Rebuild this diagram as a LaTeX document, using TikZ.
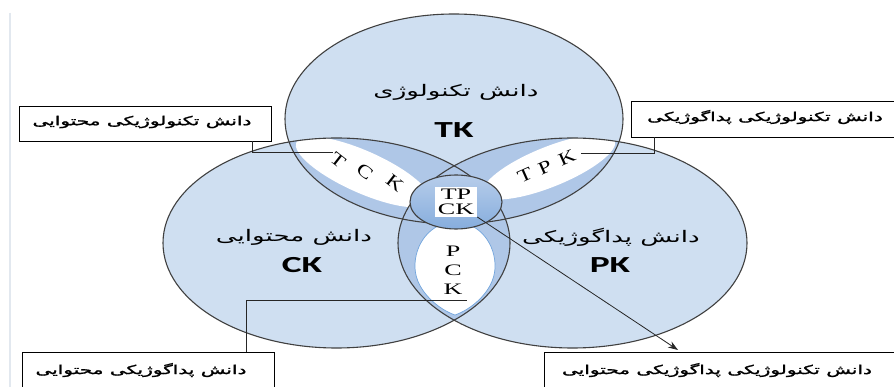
\documentclass[tikz,border=0pt]{standalone}
\usepackage{fontspec}
\usetikzlibrary{arrows.meta}
\TeXXeTstate=1
\newfontfamily\arabicfont[Script=Arabic]{DejaVu Sans}
\newfontfamily\arabicbold[Script=Arabic,FakeBold=1.5]{DejaVu Sans}
\newfontfamily\calfont{Carlito}
\newfontfamily\serfont{Liberation Serif}
\newcommand{\sx}[1]{\scalebox{1.63}[1]{#1}}
\newcommand{\fa}[1]{\scalebox{1.63}[1]{\beginR #1\endR}}
\definecolor{fillA}{HTML}{CFDFF1}
\definecolor{lensC}{HTML}{AFC7E7}
\definecolor{edgeC}{HTML}{404040}
\definecolor{coreTop}{HTML}{B7CDEA}
\definecolor{coreBot}{HTML}{86ADDD}
\definecolor{pckEdge}{HTML}{6FA3DC}
\definecolor{sideC}{HTML}{E2E8EF}
\tikzset{
  bigedge/.style={draw=edgeC, line width=1.1pt},
  arlab/.style={font={\arabicfont\fontsize{16}{19}\selectfont}, inner sep=0pt},
  enlab/.style={font={\calfont\bfseries\fontsize{23}{26}\selectfont}, inner sep=0pt},
  letter/.style={font={\serfont\fontsize{18}{20}\selectfont}, inner sep=0pt},
  pletter/.style={font={\serfont\fontsize{16}{18}\selectfont}, inner sep=0pt},
  boxnode/.style={draw=black, line width=0.9pt, fill=white, inner sep=0pt},
  boxtext/.style={font={\arabicbold\fontsize{12.3}{15}\selectfont}, inner sep=0pt},
  conn/.style={draw=black!85, line width=0.8pt},
}
\begin{document}
\begin{tikzpicture}[x=1pt, y=-1pt]
\useasboundingbox (0,0) rectangle (894,387);
\fill[white] (0,0) rectangle (894,387);
\draw[sideC, line width=2pt] (10,13) -- (10,387);

% big ellipses fills
\fill[fillA] (454,119) ellipse [x radius=169, y radius=105];
\fill[fillA] (336.5,243) ellipse [x radius=173.5, y radius=105];
\fill[fillA] (572.5,243) ellipse [x radius=174.5, y radius=105];

% lenses
\begin{scope}
  \clip (454,119) ellipse [x radius=169, y radius=105];
  \fill[lensC] (336.5,243) ellipse [x radius=173.5, y radius=105];
  \fill[lensC] (572.5,243) ellipse [x radius=174.5, y radius=105];
\end{scope}
\begin{scope}
  \clip (336.5,243) ellipse [x radius=173.5, y radius=105];
  \fill[lensC] (572.5,243) ellipse [x radius=174.5, y radius=105];
\end{scope}

% white inner regions
\begin{scope}
  \clip (454,119) ellipse [x radius=169, y radius=105];
  \clip (336.5,243) ellipse [x radius=173.5, y radius=105];
  \fill[white, rotate around={-24:(363,172)}] (363,172) ellipse [x radius=73, y radius=21];
\end{scope}
\begin{scope}
  \clip (454,119) ellipse [x radius=169, y radius=105];
  \clip (572.5,243) ellipse [x radius=174.5, y radius=105];
  \fill[white, rotate around={22:(549,167)}] (549,167) ellipse [x radius=71, y radius=20];
\end{scope}
\draw[pckEdge, line width=0.7pt, fill=white] (455,222) .. controls (430,222) and (414,245) .. (415,268)
  .. controls (416,292) and (440,310) .. (455,315)
  .. controls (470,310) and (494,292) .. (495,268)
  .. controls (496,245) and (480,222) .. (455,222) -- cycle;

% outlines
\draw[bigedge] (454,119) ellipse [x radius=169, y radius=105];
\draw[bigedge] (336.5,243) ellipse [x radius=173.5, y radius=105];
\draw[bigedge] (572.5,243) ellipse [x radius=174.5, y radius=105];

% core
\shade[top color=coreTop, bottom color=coreBot] (456,202) ellipse [x radius=46, y radius=27];
\draw[bigedge] (456,202) ellipse [x radius=46, y radius=27];
\node[fill=white, inner xsep=3pt, inner ysep=2pt, align=center,
      font={\serfont\fontsize{16}{15}\selectfont}] (tpck) at (456,202) {\sx{TP}\\\sx{CK}};

% main labels
\node[arlab] (tklab) at (456,92) {\fa{دانش تکنولوژی}};
\node[enlab] (tk) at (454,130) {\sx{TK}};
\node[arlab] (cklab) at (294,237) {\fa{دانش محتوایی}};
\node[enlab] (ck) at (302,265) {\sx{CK}};
\node[arlab] (pklab) at (611,237) {\fa{دانش پداگوژیکی}};
\node[enlab] (pk) at (610,265) {\sx{PK}};

% TCK letters
\node[letter, rotate=-38] (tckT) at (338,160) {\scalebox{1.3}[1]{T}};
\node[letter, rotate=-38] (tckC) at (365,172) {\scalebox{1.3}[1]{C}};
\node[letter, rotate=-38] (tckK) at (395,183) {\scalebox{1.3}[1]{K}};
% TPK letters
\node[letter, rotate=24] (tpkT) at (525,175) {\scalebox{1.3}[1]{T}};
\node[letter, rotate=24] (tpkP) at (545,167) {\scalebox{1.3}[1]{P}};
\node[letter, rotate=24] (tpkK) at (567,158) {\scalebox{1.3}[1]{K}};
% PCK letters
\node[pletter] (pckP) at (453,251) {\sx{P}};
\node[pletter] (pckC) at (453,270) {\sx{C}};
\node[pletter] (pckK) at (453,289) {\sx{K}};

% boxes
\node[boxnode, minimum width=252pt, minimum height=35pt] (tckbox) at (145,123.5) {};
\node[boxtext] (tckboxtext) at (142,122) {\fa{دانش تکنولوژیکی محتوایی}};
\node[boxnode, minimum width=268pt, minimum height=36pt] (tpkbox) at (765,119) {};
\node[boxtext] (tpkboxtext) at (765,117) {\fa{دانش تکنولوژیکی پداگوژیکی}};
\node[boxnode, minimum width=252pt, minimum height=44pt] (pckbox) at (148,374) {};
\node[boxtext] (pckboxtext) at (141,370) {\fa{دانش پداگوژیکی محتوایی}};
\node[boxnode, minimum width=356pt, minimum height=44pt] (tpckbox) at (722,374) {};
\node[boxtext] (tpckboxtext) at (717,370) {\fa{دانش تکنولوژیکی پداگوژیکی محتوایی}};

% connectors
\coordinate (tckend) at (333,152);
\coordinate (tpkend) at (581,153);
\coordinate (pckend) at (467,300);
\coordinate (arrtip) at (678,350);
\draw[conn] (tckbox.south -| 252,0) |- (tckend);
\draw[conn] (tpkbox.south -| 654,0) |- (tpkend);
\draw[conn] (pckbox.north -| 246,0) |- (pckend);
\draw[conn, -{Stealth[length=10pt, width=7pt]}] (tpck.south east) -- (arrtip);
\end{tikzpicture}
\end{document}
